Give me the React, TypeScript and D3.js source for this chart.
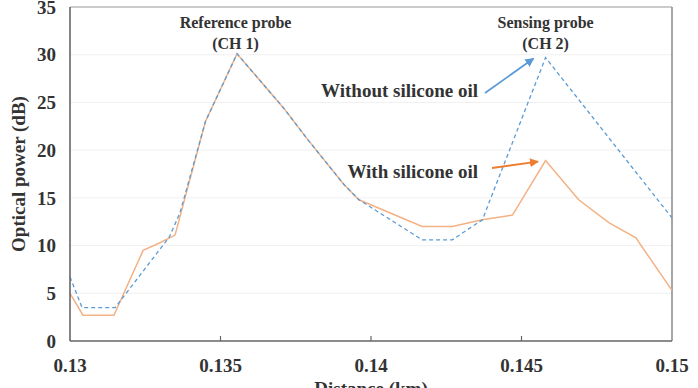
import React from 'react';
import * as d3 from 'd3';

// distance (km) / optical power (dB)
const distWithout = [0.13, 0.1304, 0.1315, 0.1333, 0.13365, 0.1345, 0.13555, 0.1371, 0.1379, 0.1391, 0.1396, 0.1417, 0.1427, 0.1437, 0.1458, 0.15];
const powerWithout = [6.7, 3.5, 3.5, 10.9, 13.4, 23.0, 30.1, 24.4, 21.1, 16.4, 14.8, 10.6, 10.6, 12.7, 29.7, 12.9];
const distWith = [0.13, 0.13043, 0.13146, 0.13243, 0.13299, 0.13349, 0.1345, 0.13555, 0.1371, 0.1379, 0.1391, 0.1396, 0.1417, 0.1427, 0.1437, 0.1447, 0.1458, 0.1469, 0.1479, 0.1488, 0.15];
const powerWith = [5.0, 2.7, 2.7, 9.5, 10.3, 11.1, 23.0, 30.1, 24.4, 21.1, 16.4, 14.8, 12.0, 12.0, 12.7, 13.2, 18.9, 14.8, 12.4, 10.8, 5.3];

const xTicks = [0.13, 0.135, 0.14, 0.145, 0.15];
const xTickLabels = ['0.13', '0.135', '0.14', '0.145', '0.15'];
const yTicks = [0, 5, 10, 15, 20, 25, 30, 35];

const W = 698;
const H = 388;
const m = { left: 70, right: 26, top: 7, bottom: 47 };
const serif = '"Liberation Serif", "Times New Roman", serif';

export default function App() {
  const x = d3.scaleLinear().domain([0.13, 0.15]).range([m.left, W - m.right]);
  const y = d3.scaleLinear().domain([0, 35]).range([H - m.bottom, m.top]);

  const line = d3.line<[number, number]>()
    .x(d => x(d[0]))
    .y(d => y(d[1]));

  const without = line(distWithout.map((d, i) => [d, powerWithout[i]]));
  const withOil = line(distWith.map((d, i) => [d, powerWith[i]]));

  const x0 = x(0.13), x1 = x(0.15), y0 = y(0), y1 = y(35);

  return (
    <svg width={W} height={H} style={{ position: 'fixed', left: 0, top: 0, background: '#fff' }}>
      <defs>
        <marker id="ab" viewBox="0 0 10 10" refX="9" refY="5" markerWidth="5" markerHeight="5" orient="auto">
          <path d="M0,0 L10,5 L0,10 z" fill="#5b9bd5" />
        </marker>
        <marker id="ao" viewBox="0 0 10 10" refX="9" refY="5" markerWidth="5" markerHeight="5" orient="auto">
          <path d="M0,0 L10,5 L0,10 z" fill="#ed7d31" />
        </marker>
      </defs>

      {/* gridlines */}
      {yTicks.slice(1, -1).map(t => (
        <line key={t} x1={x0} x2={x1} y1={y(t)} y2={y(t)} stroke="#f0f0f0" strokeWidth={1} />
      ))}

      {/* frame */}
      <line x1={x0} x2={x1} y1={y1} y2={y1} stroke="#999" strokeWidth={1.2} />
      <line x1={x1} x2={x1} y1={y1} y2={y0} stroke="#888" strokeWidth={1.5} />

      {/* series */}
      <path d={withOil ?? ''} fill="none" stroke="#f4b183" strokeWidth={1.5} />
      <path d={without ?? ''} fill="none" stroke="#5b9bd5" strokeWidth={1.3} strokeDasharray="4,3" />

      {/* axes */}
      <line x1={x0} x2={x0} y1={y1} y2={y0} stroke="#666" strokeWidth={1.6} />
      <line x1={x0} x2={x1} y1={y0} y2={y0} stroke="#666" strokeWidth={1.6} />
      {xTicks.slice(1, -1).map(t => (
        <line key={t} x1={x(t)} x2={x(t)} y1={y0} y2={y0 - 5} stroke="#666" strokeWidth={1.2} />
      ))}

      {/* tick labels */}
      <g fontFamily={serif} fontWeight="bold" fontSize={19} fill="#333">
        {yTicks.map(t => (
          <text key={t} x={x0 - 14} y={y(t)} dy="0.35em" textAnchor="end">{t}</text>
        ))}
        {xTicks.map((t, i) => (
          <text key={t} x={x(t)} y={372} textAnchor="middle">{xTickLabels[i]}</text>
        ))}
        <text x={(x0 + x1) / 2} y={395} textAnchor="middle">Distance (km)</text>
        <text transform={`translate(25,${(y0 + y1) / 2}) rotate(-90)`} textAnchor="middle">Optical power (dB)</text>
      </g>

      {/* annotations */}
      <g fontFamily={serif} fontWeight="bold" fill="#333">
        <text x={x(0.1355)} y={28} fontSize={16} textAnchor="middle">Reference probe</text>
        <text x={x(0.1355)} y={49} fontSize={16} textAnchor="middle">(CH 1)</text>
        <text x={x(0.1458)} y={28} fontSize={16} textAnchor="middle">Sensing probe</text>
        <text x={x(0.1458)} y={49} fontSize={16} textAnchor="middle">(CH 2)</text>
        <text x={478} y={97} fontSize={19} textAnchor="end">Without silicone oil</text>
        <text x={478} y={178} fontSize={19} textAnchor="end">With silicone oil</text>
      </g>
      <line x1={485} y1={93} x2={x(0.1454)} y2={y(29.6)} stroke="#5b9bd5" strokeWidth={1.8} markerEnd="url(#ab)" />
      <line x1={492} y1={168} x2={x(0.14555)} y2={y(18.8)} stroke="#ed7d31" strokeWidth={1.8} markerEnd="url(#ao)" />
    </svg>
  );
}
